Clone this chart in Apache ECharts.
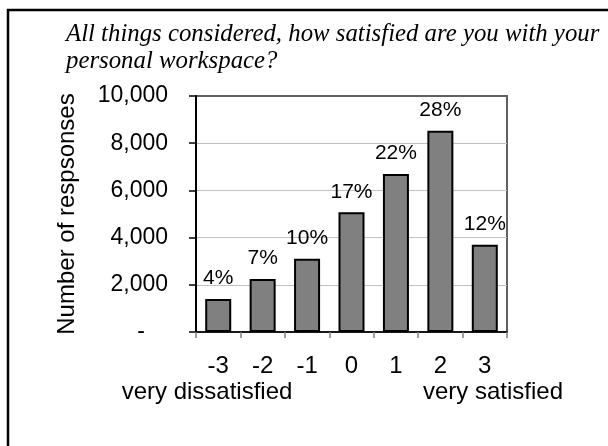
<!DOCTYPE html>
<html>
<head>
<meta charset="utf-8">
<style>
  html, body { margin: 0; padding: 0; background: #fff; }
  #chart { width: 608px; height: 446px; }
</style>
<script src="https://cdn.jsdelivr.net/npm/echarts@6/dist/echarts.min.js"></script>
</head>
<body>
<div id="chart"></div>
<script>
// Satisfaction scale, response counts and share of responses per score
const categories = ['-3', '-2', '-1', '0', '1', '2', '3'];
const responseCounts = [1400, 2250, 3100, 5070, 6700, 8530, 3700];
const shareLabels = ['4%', '7%', '10%', '17%', '22%', '28%', '12%'];
const yTickValues = [0, 2000, 4000, 6000, 8000, 10000];

const SANS = "'Liberation Sans', Arial, sans-serif";
const SERIF = "'Liberation Serif', 'Times New Roman', serif";

const chart = echarts.init(document.getElementById('chart'), null, { renderer: 'canvas' });

chart.setOption({
  backgroundColor: '#ffffff',
  animation: false,
  title: {
    text: 'All things considered, how satisfied are you with your\npersonal workspace?',
    left: 66,
    top: 21,
    padding: 0,
    textStyle: {
      fontFamily: SERIF,
      fontStyle: 'italic',
      fontWeight: 'normal',
      fontSize: 24.8,
      lineHeight: 27,
      color: '#000'
    }
  },
  grid: {
    left: 196,
    right: 101,
    top: 96,
    bottom: 114,
    show: true,
    borderColor: '#606060',
    borderWidth: 2,
    backgroundColor: 'transparent'
  },
  xAxis: {
    type: 'category',
    data: categories,
    axisLine: { show: true, lineStyle: { color: '#000', width: 1.5 } },
    axisTick: { show: true, length: 6, lineStyle: { color: '#808080', width: 1.5 } },
    axisLabel: {
      margin: 22,
      fontFamily: SANS,
      fontSize: 24,
      color: '#000'
    },
    splitLine: { show: false }
  },
  yAxis: {
    type: 'value',
    min: 0,
    max: 10000,
    interval: 2000,
    name: 'Number of respsonses',
    nameLocation: 'middle',
    nameGap: 117,
    nameTextStyle: { fontFamily: SANS, fontSize: 24, color: '#000' },
    axisLine: { show: true, lineStyle: { color: '#000', width: 2 } },
    axisTick: { show: true, length: 7, lineStyle: { color: '#000', width: 1.5 } },
    axisLabel: {
      margin: 28,
      fontFamily: SANS,
      fontSize: 23,
      color: '#000',
      formatter: function (v) {
        return v === 0 ? '{d|-}' : v.toLocaleString('en-US');
      },
      rich: {
        d: { fontFamily: SANS, fontSize: 23, color: '#000', padding: [0, 23, 0, 0] }
      }
    },
    splitLine: {
      show: true,
      lineStyle: {
        color: yTickValues.map(v => (v === 0 || v === 10000) ? 'transparent' : '#c0c0c0'),
        width: 1
      }
    }
  },
  series: [{
    type: 'bar',
    data: responseCounts,
    barWidth: 26,
    itemStyle: { color: '#808080', borderColor: '#000', borderWidth: 2 },
    label: {
      show: true,
      position: 'top',
      distance: 10,
      fontFamily: SANS,
      fontSize: 21,
      color: '#000',
      formatter: p => shareLabels[p.dataIndex]
    }
  }],
  graphic: [
    {
      type: 'rect',
      shape: { x: 8, y: 10, width: 1000, height: 1000 },
      style: { fill: 'none', stroke: '#000', lineWidth: 2.5 },
      silent: true
    },
    {
      type: 'text',
      style: {
        text: 'very dissatisfied',
        x: 207, y: 392.5,
        align: 'center', verticalAlign: 'middle',
        textAlign: 'center', textVerticalAlign: 'middle',
        font: '24px ' + SANS,
        fill: '#000'
      }
    },
    {
      type: 'text',
      style: {
        text: 'very satisfied',
        x: 493, y: 392.5,
        align: 'center', verticalAlign: 'middle',
        textAlign: 'center', textVerticalAlign: 'middle',
        font: '24px ' + SANS,
        fill: '#000'
      }
    }
  ]
});
</script>
</body>
</html>
